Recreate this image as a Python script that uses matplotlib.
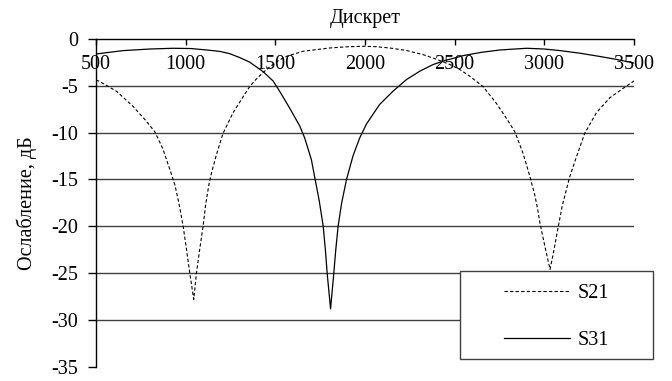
import matplotlib
matplotlib.use('Agg')
import matplotlib.pyplot as plt
from matplotlib.patches import Rectangle

plt.rcParams['font.family'] = ['Liberation Serif', 'DejaVu Serif']
plt.rcParams['axes.unicode_minus'] = False

# отсчёты (дискреты) и ослабление, дБ
s21_x = [500, 521, 614, 706, 781, 827, 850, 874, 911, 940, 962, 986, 1005, 1023, 1045,
         1060, 1078, 1097, 1112, 1130, 1144, 1171, 1208, 1264, 1320, 1357, 1394, 1432,
         1469, 1520, 1562, 1654, 1803, 1900, 1989, 2060, 2138, 2230, 2324, 2400, 2474,
         2530, 2584, 2658, 2733, 2789, 2835, 2881, 2918, 2946, 2962, 2976, 3005, 3032,
         3055, 3078, 3100, 3123, 3142, 3179, 3225, 3290, 3365, 3439, 3500]
s21_y = [-4.4, -4.57, -5.6, -7.2, -8.8, -9.9, -10.8, -11.8, -13.9, -15.6, -17.5, -20, -22.5, -25, -27.8,
         -25, -22.5, -20, -17.6, -15.5, -14.3, -12.4, -10.1, -7.9, -6.2, -5.1, -4.3, -3.6,
         -3.0, -2.3, -1.88, -1.34, -0.99, -0.86, -0.81, -0.85, -0.99, -1.25, -1.7, -2.2, -2.76,
         -3.3, -4.0, -5.1, -6.9, -8.5, -9.9, -12.2, -14.6, -16.6, -18.1, -19.7, -22.3, -24.6,
         -22.4, -20, -17.8, -16.1, -14.7, -12.6, -10.1, -7.9, -6.3, -5.3, -4.5]

s31_x = [500, 651, 800, 930, 1030, 1116, 1190, 1246, 1300, 1357, 1431, 1487, 1524, 1580,
         1636, 1664, 1701, 1720, 1745, 1767, 1779, 1789, 1808, 1826, 1837, 1850, 1870,
         1897, 1933, 1970, 2008, 2082, 2156, 2231, 2305, 2379, 2450, 2511, 2548, 2650,
         2753, 2902, 3000, 3088, 3200, 3311, 3400, 3500]
s31_y = [-1.63, -1.27, -1.1, -1.02, -1.05, -1.2, -1.35, -1.6, -2.0, -2.5, -3.5, -4.5, -5.6, -7.4,
         -9.3, -10.6, -12.9, -14.8, -17.3, -20, -22.5, -25, -28.8, -25, -22.5, -20, -17.5,
         -15, -12.5, -10.6, -9.1, -7.0, -5.6, -4.36, -3.47, -2.76, -2.3, -2.0, -1.8, -1.45,
         -1.2, -1.02, -1.1, -1.27, -1.55, -1.9, -2.2, -2.6]

x_ticks = [500, 1000, 1500, 2000, 2500, 3000, 3500]
y_ticks = [-35, -30, -25, -20, -15, -10, -5, 0]

W, H = 672, 381
fig = plt.figure(figsize=(W / 100, H / 100), dpi=100)
ax = fig.add_axes([96 / W, 1 - 367 / H, (634 - 96) / W, (367 - 38.7) / H])

for v in y_ticks[1:-1]:
    ax.axhline(v, color='#404040', lw=1.0, zorder=1)

ax.plot(s21_x, s21_y, color='black', lw=0.8, linestyle=(0, (3, 2)), label='S21', zorder=2)
ax.plot(s31_x, s31_y, color='black', lw=0.9, label='S31', zorder=2)

ax.set_xlim(500, 3500)
ax.set_ylim(-35, 0)
ax.set_xticks(x_ticks)
ax.set_yticks(y_ticks)

ax.spines['top'].set_visible(False)
ax.spines['right'].set_visible(False)
ax.spines['bottom'].set_position(('data', 0))
for s in ('left', 'bottom'):
    ax.spines[s].set_linewidth(1.0)

ax.tick_params(axis='x', direction='out', length=4, width=1.0, pad=8, labelsize=14.5)
ax.tick_params(axis='y', direction='out', length=6, width=1.0, pad=7, labelsize=14.5)

fig.text(365 / W, 1 - 18 / H, 'Дискрет', ha='center', va='center', fontsize=14.5)
ax.set_ylabel('Ослабление, дБ', fontsize=14.5, labelpad=10)

# рамка легенды
box = Rectangle((460 / W, 1 - 359 / H), (653 - 460) / W, (359 - 271) / H,
                transform=fig.transFigure, facecolor='white', edgecolor='#404040',
                lw=1.0, clip_on=False, zorder=4)
ax.add_patch(box)
ax.legend(loc='center', bbox_to_anchor=((460 + 653) / 2 / W, 1 - 317 / H),
          bbox_transform=fig.transFigure, frameon=False, fontsize=14.5,
          handlelength=3.3, handletextpad=0.35, labelspacing=1.35)

ax.set_xlim(500, 3500)
ax.set_ylim(-35, 0)
fig.savefig('out.png', dpi=100)
